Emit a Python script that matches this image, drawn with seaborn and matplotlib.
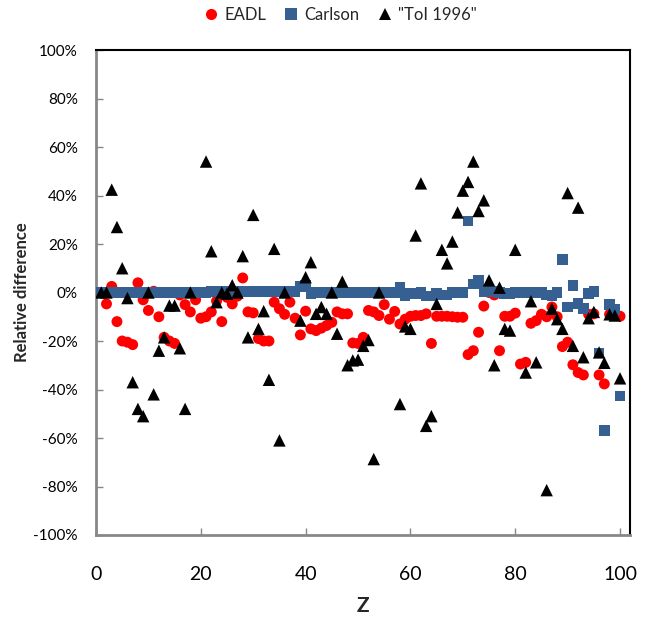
import numpy as np
import pandas as pd
import seaborn as sns
import matplotlib
matplotlib.use("Agg")
import matplotlib.pyplot as plt
from matplotlib.lines import Line2D
from matplotlib.ticker import FuncFormatter

nan = np.nan
Z = list(range(1, 101))

# Relative difference in percent
eadl = [0, -4.7, 2.5, -12, -20, -20.5, -21.5, 4, -3, -7.4,
        0.5, -10, -18.5, -20, -21, -1, -5, -8, -3, -10.6,
        -10, -8, -3.5, -12, -2, -4.7, -1.5, 6, -8, -8.4,
        -19, -20, -20, -4, -6.7, -9, -4, -10.6, -17.5, -7.7,
        -15, -15.7, -14.7, -13.6, -12.3, -8, -8.8, -8.8, -20.8, -21,
        -18.5, -7.4, -8, -9.5, -5, -11, -7.8, -13, -11, -9.8,
        -9.5, -9.5, -8.8, -21, -9.8, -9.8, -9.8, -10, -10.2, -10.2,
        -25.6, -24, -16.4, -5.6, 0, -1, -24, -9.8, -9.8, -8.5,
        -29.5, -28.8, -12.7, -11.6, -9, -10, -6, -10, -22.3, -20.5,
        -29.8, -33, -34, -9, -8.8, -34, -37.7, -9, -9, -9.8]

carlson = [0, 0, 0, 0, 0, 0, 0, 0, 0, 0,
           0, 0, 0, 0, 0, 0, 0, 0, 0, 0,
           0, 0.3, 0.3, 0.3, 0.3, 0.3, 0.3, 0.3, 0.3, 0.3,
           0.3, 0.3, 0.3, 0.3, 0.3, 0.3, 0.3, 0.3, 2.5, 3,
           -0.7, 0, 0, 0, 0, 0, 0, 0, 0, 0,
           0, 0, 0, 0, 0, 0, 0, 2.3, -1.4, -0.5,
           -0.5, 0, -1.5, -1.5, -0.5, -1, -1, 0, 0, 0,
           29.5, 3.5, 5, 0.5, 0.5, 0.5, 0, -0.5, -0.5, 0,
           0, 0, 0, 0, 0, -1, -1.5, 0, 13.5, -6,
           3, -4.5, -6.5, -0.5, 0.5, -25, -57, -5, -7, -42.6]

toi = [0, 0, 42.4, 27, 10, -2.3, -37, -48, -51, 0,
       -42, -24, -18.5, -5.4, -5.4, -23, -48, 0, nan, nan,
       54, 17, -4, 0, -0.5, 3, 0, 15, -18.5, 32,
       -15, -7.7, -36, 18, -61, 0, nan, nan, -11.6, 6.3,
       12.5, -8.8, -6, -8.8, 0, -17, 4.5, -30, -28, -27.7,
       -22, -19.6, -68.7, 0, nan, nan, nan, -46, -14, -15,
       23.5, 45, -55, -51, -4.7, 17.6, 12, 21, 33, 42,
       45.6, 54, 33.6, 38, 5, -30, 2, -15, -15.7, 17.6,
       nan, -33, -3.6, -28.8, nan, -81.5, -6.7, -11, -15, 41,
       -22, 35, -26.7, -10.6, -8, -24.7, -29, -9, -9.5, -35.4]

series_names = ["EADL", "Carlson", '"ToI 1996"']
colors = {"EADL": "#FF0000", "Carlson": "#376092", '"ToI 1996"': "#000000"}
markers = {"EADL": "o", "Carlson": "s", '"ToI 1996"': "^"}
sizes = {"EADL": 62, "Carlson": 58, '"ToI 1996"': 80}

df = pd.DataFrame({"Z": Z, "EADL": eadl, "Carlson": carlson, '"ToI 1996"': toi})
long = df.melt(id_vars="Z", var_name="series", value_name="pct").dropna()
long["frac"] = long["pct"] / 100.0

sns.set_theme(style="white")
plt.rcParams['font.family'] = ['Lato', 'DejaVu Sans']

fig = plt.figure(figsize=(6.47, 6.18), dpi=100)
ax = fig.add_axes([96/647, 1-535/618, (630-96)/647, (535-50)/618])

for name in series_names:
    sub = long[long["series"] == name]
    sns.scatterplot(data=sub, x="Z", y="frac", ax=ax, color=colors[name],
                    marker=markers[name], s=sizes[name], linewidth=0,
                    edgecolor="none", legend=False, zorder=3)

ax.set_xlim(0, 101.9)
ax.set_ylim(-1, 1)
ax.set_xticks([0, 20, 40, 60, 80, 100])
ax.set_yticks(np.arange(-1, 1.01, 0.2))


def pct_fmt(v, pos):
    n = int(round(v * 100))
    return ("-" if n < 0 else "") + f"{abs(n)}%"


ax.yaxis.set_major_formatter(FuncFormatter(pct_fmt))
ax.set_xlabel("")
ax.set_ylabel("")

for side in ["left", "bottom"]:
    ax.spines[side].set_color("#878787")
    ax.spines[side].set_linewidth(2)
for side in ["top", "right"]:
    ax.spines[side].set_color("black")
    ax.spines[side].set_linewidth(1.5)
    ax.spines[side].set_visible(True)

ax.tick_params(axis="y", direction="in", length=5, width=1, color="#878787",
               labelsize=11, pad=13, left=True, labelcolor="black")
ax.tick_params(axis="x", direction="in", length=5, width=1, color="#878787",
               labelsize=14, pad=22, bottom=True, labelcolor="black")

fig.text(22/647, 1-292/618, "Relative difference", rotation=90, ha="center",
         va="center", fontsize=12, fontweight="bold")
fig.text(363/647, 1-606/618, "Z", ha="center", va="center", fontsize=15,
         fontweight="bold")

handles = [Line2D([], [], linestyle="none", marker=markers[n], color=colors[n],
                  markersize=8 if n != '"ToI 1996"' else 9, markeredgewidth=0)
           for n in series_names]
fig.legend(handles, series_names, loc="center", bbox_to_anchor=(0.525, 1-15/618),
           ncol=3, frameon=False, fontsize=12, handletextpad=0.3,
           columnspacing=1.0, handlelength=1.0)

fig.savefig("out.png", dpi=100)
